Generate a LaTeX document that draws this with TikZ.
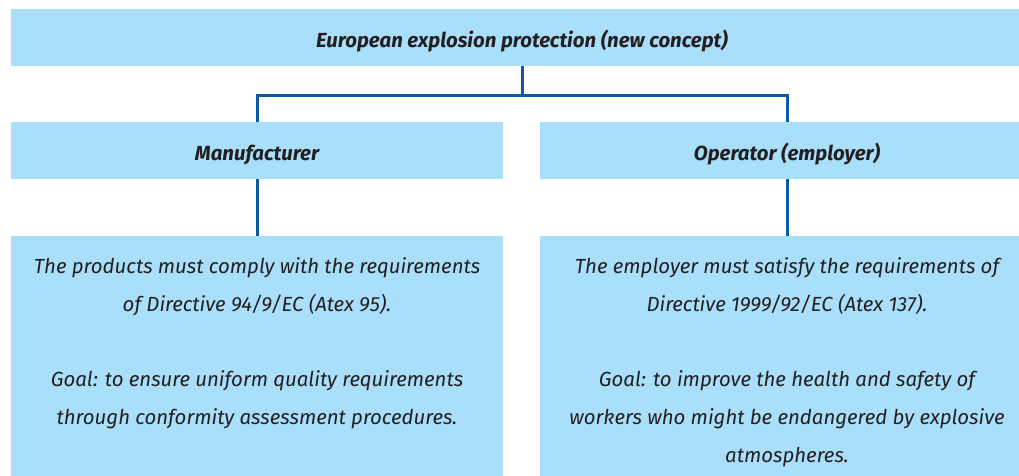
\documentclass[tikz,border=0pt]{standalone}
\usepackage{fontspec}
\setmainfont{Fira Sans}
\definecolor{boxblue}{HTML}{A9DFFA}
\definecolor{linkblue}{HTML}{0B5AA5}
\definecolor{ink}{HTML}{231F20}
\begin{document}
\begin{tikzpicture}[x=1pt,y=-1pt,
  box/.style={fill=boxblue, draw=none, inner sep=0pt, outer sep=0pt},
  head/.style={anchor=base, inner sep=0pt, text=ink, font=\fontsize{20.4}{24}\selectfont\bfseries\itshape},
  desc/.style={anchor=base, inner sep=0pt, text=ink, align=center, font=\fontsize{20.4}{37.8}\selectfont\itshape},
  conn/.style={draw=linkblue, line width=3pt}
]
\useasboundingbox (0,0) rectangle (1019,476);
\clip (0,0) rectangle (1019,476);
\node[box, minimum width=1022pt, minimum height=57pt] (top) at (522,37.5) {};
\node[box, minimum width=492pt, minimum height=57pt] (man) at (257,150.5) {};
\node[box, minimum width=494pt, minimum height=57pt] (op) at (787,150.5) {};
\node[box, minimum width=492pt, minimum height=260pt] (mdesc) at (257,366) {};
\node[box, minimum width=494pt, minimum height=260pt] (odesc) at (787,366) {};
\node[head] (toptext) at (522,48) {European explosion protection (new concept)};
\node[head] (mantext) at (257,160) {Manufacturer};
\node[head] (optext) at (787,160) {Operator (employer)};
\node[desc] (mdesctext) at (257,424.5) {The products must comply with the requirements\\of Directive 94/9/EC (Atex 95).\\[37.8pt]Goal: to ensure uniform quality requirements\\through conformity assessment procedures.};
\node[desc] (odesctext) at (787,462.5) {The employer must satisfy the requirements of\\Directive 1999/92/EC (Atex 137).\\[37.8pt]Goal: to improve the health and safety of\\workers who might be endangered by explosive\\atmospheres.};
\draw[conn] (top.south) -- ++(0,30) -| (man.north);
\draw[conn] (top.south) ++(0,30) -| (op.north);
\draw[conn] (man.south) -- (mdesc.north);
\draw[conn] (op.south) -- (odesc.north);
\end{tikzpicture}
\end{document}
